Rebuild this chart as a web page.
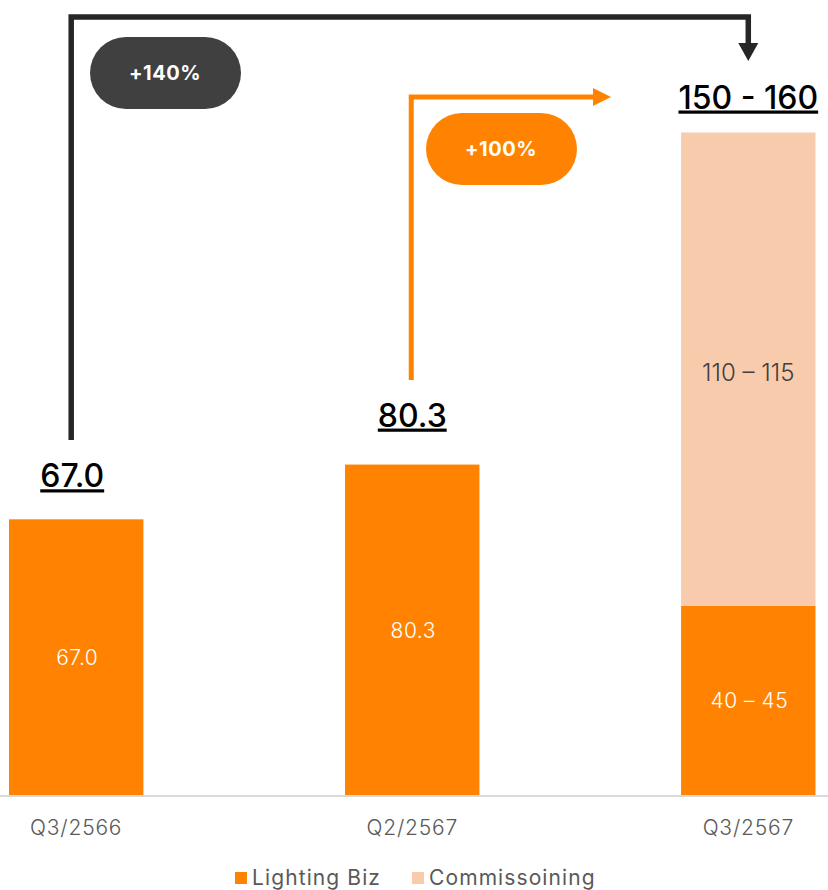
<!DOCTYPE html>
<html>
<head>
<meta charset="utf-8">
<script src="https://cdn.jsdelivr.net/npm/d3@7"></script>
<style>
  body { margin: 0; background: #fff; }
  svg { display: block; font-family: 'Inter', 'Noto Sans', sans-serif; }
</style>
</head>
<body>
<div id="chart"></div>
<script>
// data
const categories = ['Q3/2566', 'Q2/2567', 'Q3/2567']
const lightingValues = [67.0, 80.3, 46]
const commissioningValues = [0, 0, 115]
const totalLabels = ['67.0', '80.3', '150 - 160']
const lightingLabels = ['67.0', '80.3', '40 – 45']
const commissioningLabels = ['', '', '110 – 115']
const seriesNames = ['Lighting Biz', 'Commissoining']
const growthLabels = ['+140%', '+100%']

const draw = () => {
  const dimensions = {
    width: 828,
    height: 890,
    baseline: 795,
  }

  const colors = {
    lighting: '#ff8300',
    commissioning: '#f8cbad',
    dark: '#262626',
    pill: '#404040',
    axisText: '#595959',
  }

  const svg = d3
    .select('#chart')
    .append('svg')
    .attr('width', dimensions.width)
    .attr('height', dimensions.height)

  // scales
  const xScale = d3
    .scaleBand()
    .domain(categories)
    .range([9, 815.5])
    .paddingInner(0.6)
    .paddingOuter(0)

  const yScale = d3
    .scaleLinear()
    .domain([0, 193.2])
    .range([dimensions.baseline, 0])

  const cx = (i) => xScale(categories[i]) + xScale.bandwidth() / 2
  const totals = categories.map((c, i) => lightingValues[i] + commissioningValues[i])

  // bars
  const rows = categories.map((c, i) => ({
    cat: c,
    lighting: lightingValues[i],
    commissioning: commissioningValues[i],
  }))
  const stacked = d3.stack().keys(['lighting', 'commissioning'])(rows)

  svg
    .append('g')
    .selectAll('g')
    .data(stacked)
    .join('g')
    .attr('fill', (s) => colors[s.key])
    .selectAll('rect')
    .data((s) => s)
    .join('rect')
    .attr('x', (d) => xScale(d.data.cat))
    .attr('y', (d) => yScale(d[1]))
    .attr('width', xScale.bandwidth())
    .attr('height', (d) => yScale(d[0]) - yScale(d[1]))

  // baseline
  svg
    .append('line')
    .attr('x1', 0)
    .attr('x2', dimensions.width)
    .attr('y1', dimensions.baseline + 1)
    .attr('y2', dimensions.baseline + 1)
    .attr('stroke', '#d9d9d9')
    .attr('stroke-width', 2)

  // labels inside the bars
  svg
    .append('g')
    .selectAll('text')
    .data(categories)
    .join('text')
    .attr('x', (d, i) => cx(i) + 1)
    .attr('y', (d, i) => (yScale(0) + yScale(lightingValues[i])) / 2 + 8)
    .attr('text-anchor', 'middle')
    .attr('fill', '#fff')
    .attr('font-size', 21)
    .attr('font-weight', 300)
    .style('letter-spacing', '0.5px')
    .text((d, i) => lightingLabels[i])

  svg
    .append('g')
    .selectAll('text')
    .data(categories.filter((d, i) => commissioningValues[i] > 0))
    .join('text')
    .attr('x', (d) => cx(categories.indexOf(d)))
    .attr('y', (d) => yScale(totals[categories.indexOf(d)]) + 248)
    .attr('text-anchor', 'middle')
    .attr('fill', '#404040')
    .attr('font-size', 24)
    .attr('font-weight', 300)
    .text((d) => commissioningLabels[categories.indexOf(d)])

  // totals above the bars (underlined)
  const totalOffset = [32, 38, 24]
  svg
    .append('g')
    .selectAll('text')
    .data(categories)
    .join('text')
    .attr('x', (d, i) => cx(i) - (i === 0 ? 4 : 0))
    .attr('y', (d, i) => yScale(totals[i]) - totalOffset[i])
    .attr('text-anchor', 'middle')
    .attr('fill', '#000')
    .attr('font-size', 32)
    .attr('font-weight', 500)
    .style('text-decoration', 'underline')
    .text((d, i) => totalLabels[i])

  // x-axis labels
  svg
    .append('g')
    .selectAll('text')
    .data(categories)
    .join('text')
    .attr('x', (d, i) => cx(i))
    .attr('y', 835)
    .attr('text-anchor', 'middle')
    .attr('fill', colors.axisText)
    .attr('font-size', 21)
    .attr('font-weight', 300)
    .style('letter-spacing', '0.8px')
    .text((d) => d)

  // legend
  const legendX = [235, 412]
  const legend = svg
    .append('g')
    .selectAll('g')
    .data(seriesNames)
    .join('g')
    .attr('transform', (d, i) => `translate(${legendX[i]}, 872)`)
  legend
    .append('rect')
    .attr('width', 12)
    .attr('height', 12)
    .attr('fill', (d, i) => (i === 0 ? colors.lighting : colors.commissioning))
  legend
    .append('text')
    .attr('x', 17)
    .attr('y', 13)
    .attr('fill', colors.axisText)
    .attr('font-size', 21)
    .attr('font-weight', 400)
    .style('letter-spacing', '1.1px')
    .text((d) => d)

  // black growth arrow: Q3/2566 -> Q3/2567
  const topY = 17
  const x0 = cx(0) - 5
  const x2 = cx(2)
  svg
    .append('path')
    .attr('d', `M${x0},440 V${topY} H${x2} V46`)
    .attr('fill', 'none')
    .attr('stroke', colors.dark)
    .attr('stroke-width', 5.5)
  svg
    .append('path')
    .attr('d', `M${x2 - 10},43 L${x2 + 10},43 L${x2},61 Z`)
    .attr('fill', colors.dark)

  // orange growth arrow: Q2/2567 -> Q3/2567
  const x1 = cx(1) - 1
  const midY = 97
  svg
    .append('path')
    .attr('d', `M${x1},380 V${midY} H596`)
    .attr('fill', 'none')
    .attr('stroke', colors.lighting)
    .attr('stroke-width', 5)
  svg
    .append('path')
    .attr('d', `M593,${midY - 9} L611,${midY} L593,${midY + 9} Z`)
    .attr('fill', colors.lighting)

  // pills
  const pills = [
    { x: 90, y: 37, fill: colors.pill, text: growthLabels[0] },
    { x: 426, y: 113, fill: '#ff8300', text: growthLabels[1] },
  ]
  const pill = svg.append('g').selectAll('g').data(pills).join('g')
  pill
    .append('rect')
    .attr('x', (d) => d.x)
    .attr('y', (d) => d.y)
    .attr('width', 151)
    .attr('height', 72)
    .attr('rx', 36)
    .attr('fill', (d) => d.fill)
  pill
    .append('text')
    .attr('x', (d) => d.x + 75)
    .attr('y', (d) => d.y + 43)
    .attr('text-anchor', 'middle')
    .attr('fill', '#fff')
    .attr('font-size', 20)
    .attr('font-weight', 700)
    .style('letter-spacing', '0.5px')
    .text((d) => d.text)
}

draw()
</script>
</body>
</html>
